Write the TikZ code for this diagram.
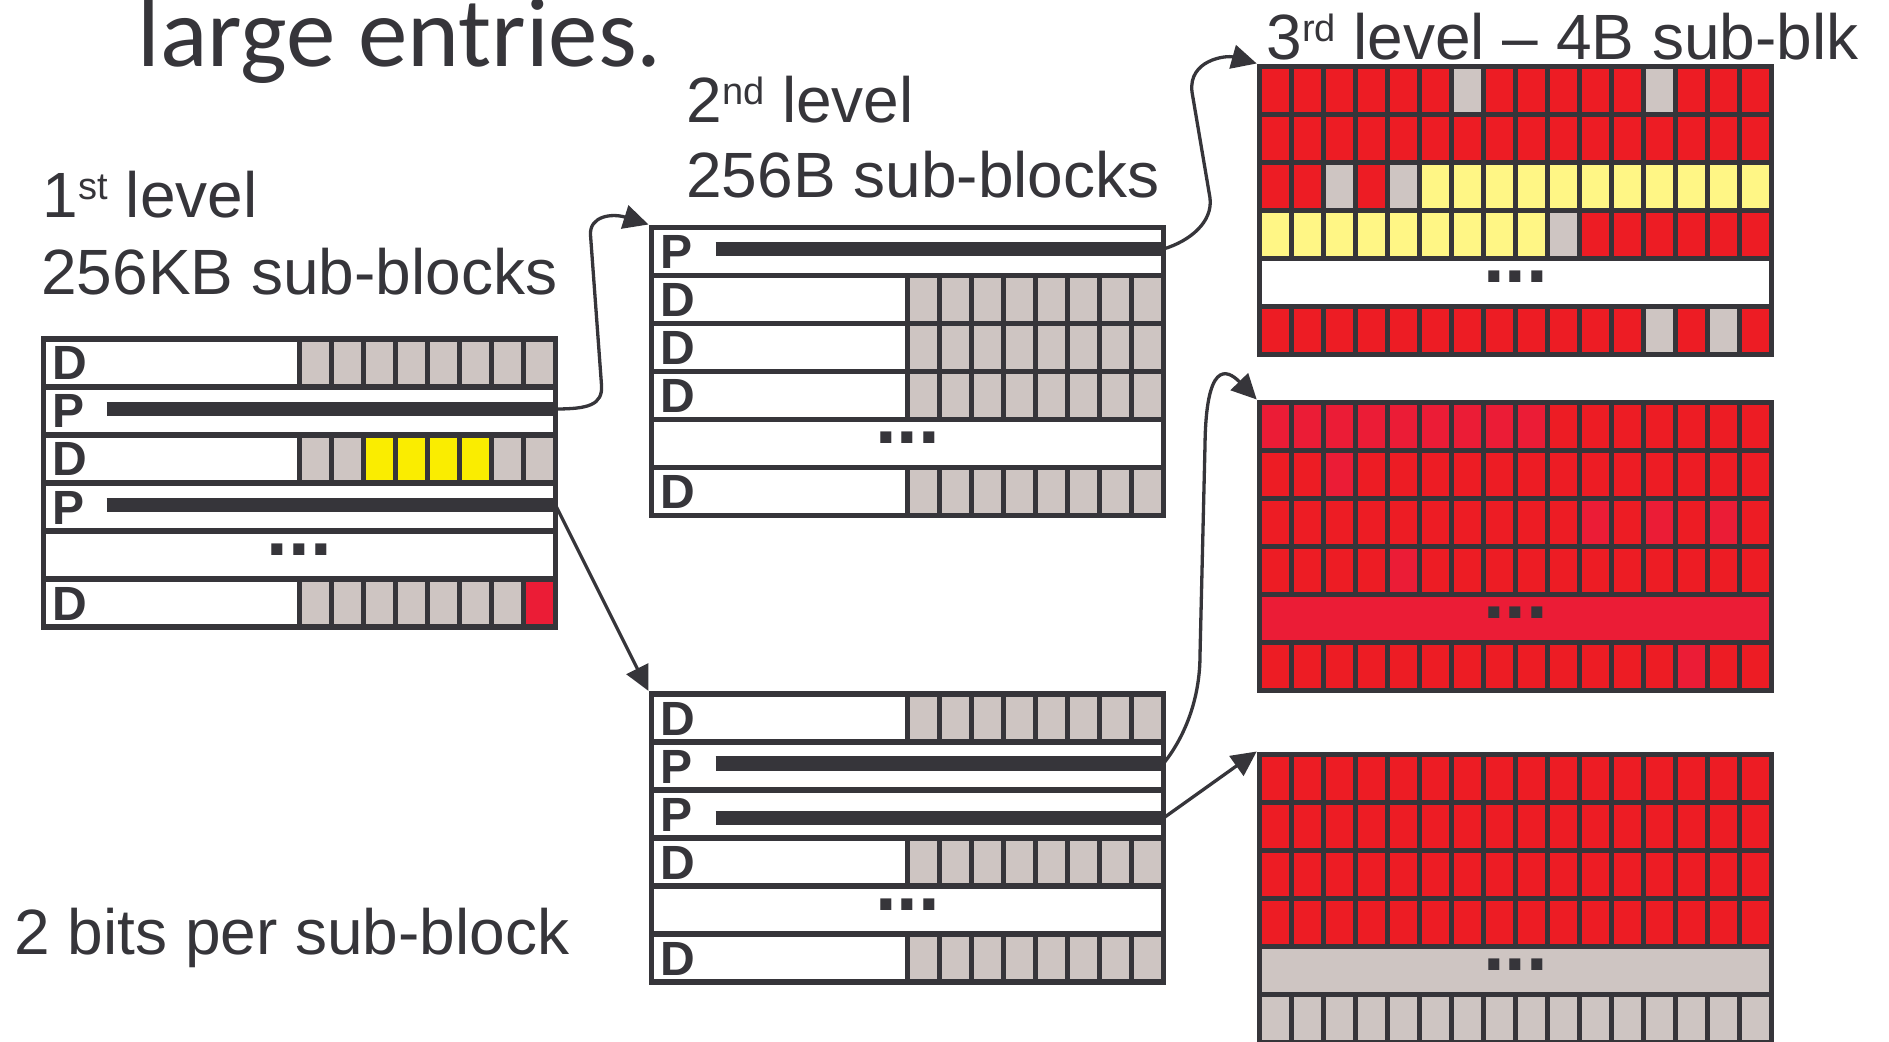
\documentclass[tikz,border=0pt]{standalone}
\usepackage{fontspec}
\setmainfont{Liberation Sans}
\newfontfamily\handfont{Carlito}
\usepackage{xcolor}
\usepackage{tikz}
\usetikzlibrary{arrows.meta}

\definecolor{ink}{RGB}{54,53,58}
\definecolor{cellgray}{RGB}{206,197,194}
\definecolor{hotred}{RGB}{237,28,36}
\definecolor{crimson}{RGB}{235,28,54}
\definecolor{brightyel}{RGB}{250,237,0}
\definecolor{paleyel}{RGB}{255,246,133}

\begin{document}
\begin{tikzpicture}[x=0.5pt,y=-0.5pt,
  cellbox/.style={draw=ink,line width=2.75pt},
  ptrbar/.style={draw=ink,line width=7.15pt},
  rowtag/.style={font=\bfseries\fontsize{24}{24}\selectfont,text=ink,inner sep=0pt,anchor=base west},
  skipdots/.style={font=\bfseries\fontsize{39}{39}\selectfont,text=ink,inner sep=0pt,anchor=base},
  lbl/.style={font=\fontsize{32}{38}\selectfont,text=ink,inner sep=0pt,anchor=base west},
  wire/.style={draw=ink,line width=1.65pt,-{Triangle[length=12.5pt,width=12pt]}}]

\useasboundingbox (0,0) rectangle (1889,1042);

% Title, cut off at the top
\node[lbl,font=\handfont\fontsize{49.5}{50}\selectfont] (title) at (137,67) {large entries.};

% Labels
\node[lbl] (lv1) at (42.5,218) {1\raisebox{9pt}{\fontsize{19}{19}\selectfont st} level};
\node[lbl] (lv1sz) at (41,295) {256KB sub-blocks};
\node[lbl] (lv2) at (686,123) {2\raisebox{9pt}{\fontsize{19}{19}\selectfont nd} level};
\node[lbl] (lv2sz) at (686,198) {256B sub-blocks};
\node[lbl] (lv3) at (1266,60) {3\raisebox{9pt}{\fontsize{19}{19}\selectfont rd} level – 4B sub-blk};
\node[lbl] (bits) at (14,954) {2 bits per sub-block};

% 1st level
\begin{scope}[shift={(43.5,339)}]
  \foreach \r in {0,2,5} {
    \draw[cellbox,fill=white] (0,48*\r) rectangle +(256,48);
    \foreach \c in {0,...,7}
      \draw[cellbox,fill=cellgray] (256+32*\c,48*\r) rectangle +(32,48);
    \node[rowtag] (a-d\r) at (9,48*\r+41) {D};
  }
  \foreach \r in {1,3} {
    \draw[cellbox,fill=white] (0,48*\r) rectangle +(512,48);
    \draw[ptrbar] (63,48*\r+22) -- (512,48*\r+22);
    \node[rowtag] (a-p\r) at (9,48*\r+41) {P};
  }
  \draw[cellbox,fill=white] (0,192) rectangle +(512,48);
  \node[skipdots] (a-more) at (256,216) {...};
  % used sub-blocks
  \foreach \c in {2,...,5}
    \draw[cellbox,fill=brightyel] (256+32*\c,96) rectangle +(32,48);
  \draw[cellbox,fill=crimson] (480,240) rectangle +(32,48);
  \coordinate (a-out1) at (512,70);
  \coordinate (a-out2) at (512,166);
\end{scope}

% 2nd level, upper
\begin{scope}[shift={(651.5,227.5)}]
  \draw[cellbox,fill=white] (0,0) rectangle +(512,48);
  \draw[ptrbar] (64,21.5) -- (512,21.5);
  \node[rowtag] (b-p0) at (9,41) {P};
  \foreach \r in {1,2,3,5} {
    \draw[cellbox,fill=white] (0,48*\r) rectangle +(256,48);
    \foreach \c in {0,...,7}
      \draw[cellbox,fill=cellgray] (256+32*\c,48*\r) rectangle +(32,48);
    \node[rowtag] (b-d\r) at (9,48*\r+41) {D};
  }
  \draw[cellbox,fill=white] (0,192) rectangle +(512,48);
  \node[skipdots] (b-more) at (256,216) {...};
  \coordinate (b-in) at (-3,-3);
  \coordinate (b-out) at (512,21.5);
\end{scope}

% 2nd level, lower
\begin{scope}[shift={(651.5,694)}]
  \foreach \r in {0,3,5} {
    \draw[cellbox,fill=white] (0,48*\r) rectangle +(256,48);
    \foreach \c in {0,...,7}
      \draw[cellbox,fill=cellgray] (256+32*\c,48*\r) rectangle +(32,48);
    \node[rowtag] (c-d\r) at (9,48*\r+41) {D};
  }
  \foreach \r/\dy in {1/21.5,2/28} {
    \draw[cellbox,fill=white] (0,48*\r) rectangle +(512,48);
    \draw[ptrbar] (64,48*\r+\dy) -- (512,48*\r+\dy);
    \node[rowtag] (c-p\r) at (9,48*\r+41) {P};
  }
  \draw[cellbox,fill=white] (0,192) rectangle +(512,48);
  \node[skipdots] (c-more) at (256,216) {...};
  \coordinate (c-in) at (-3,-3);
  \coordinate (c-out1) at (512,69.5);
  \coordinate (c-out2) at (512,124);
\end{scope}

% 3rd level, top
\begin{scope}[shift={(1259.7,66.5)}]
  \foreach \r in {0,1,2,3,5}
    \foreach \c in {0,...,15}
      \draw[cellbox,fill=hotred] (32*\c,48*\r) rectangle +(32,48);
  \draw[cellbox,fill=white] (0,192) rectangle +(512,48);
  \node[skipdots] (d-more) at (256,216) {...};
  % free sub-blocks
  \foreach \c/\r in {6/0,12/0,2/2,4/2,9/3,12/5,14/5}
    \draw[cellbox,fill=cellgray] (32*\c,48*\r) rectangle +(32,48);
  % the large entry
  \foreach \c in {5,...,15}
    \draw[cellbox,fill=paleyel] (32*\c,96) rectangle +(32,48);
  \foreach \c in {0,...,8}
    \draw[cellbox,fill=paleyel] (32*\c,144) rectangle +(32,48);
  \coordinate (d-in) at (-3,-3);
\end{scope}

% 3rd level, middle
\begin{scope}[shift={(1259.7,402.5)}]
  \foreach \r in {0,1,2,3,5}
    \foreach \c in {0,...,15}
      \draw[cellbox,fill=hotred] (32*\c,48*\r) rectangle +(32,48);
  \foreach \c/\r in {0/0,1/0,2/0,3/0,4/0,5/0,6/0,7/0,8/0,2/1,10/2,12/2,14/2,4/3,13/5}
    \draw[cellbox,fill=crimson] (32*\c,48*\r) rectangle +(32,48);
  \draw[cellbox,fill=crimson] (0,192) rectangle +(512,48);
  \node[skipdots] (e-more) at (256,216) {...};
  \coordinate (e-in) at (-3,-3);
\end{scope}

% 3rd level, bottom
\begin{scope}[shift={(1259.7,754.5)}]
  \foreach \r in {0,...,3}
    \foreach \c in {0,...,15}
      \draw[cellbox,fill=hotred] (32*\c,48*\r) rectangle +(32,48);
  \draw[cellbox,fill=cellgray] (0,192) rectangle +(512,48);
  \node[skipdots] (f-more) at (256,216) {...};
  \foreach \c in {0,...,15}
    \draw[cellbox,fill=cellgray] (32*\c,240) rectangle +(32,48);
  \coordinate (f-in) at (-3,-3);
\end{scope}

% Pointers
\draw[wire] (a-out1) .. controls (588,409) and (603,405) .. (601.5,385)
  -- (590.5,235) .. controls (589.3,216) and (612,213) .. (b-in);
\draw[wire] (a-out2) -- (c-in);
\draw[wire] (b-out) .. controls (1190,241) and (1213,222) .. (1210,198)
  -- (1192,92) .. controls (1188,60) and (1226,55) .. (d-in);
\draw[wire] (c-out1) .. controls (1184,738) and (1200,700) .. (1200,655)
  -- (1205,445) .. controls (1206,362) and (1226,368) .. (e-in);
\draw[wire] (c-out2) -- (f-in);

\end{tikzpicture}
\end{document}
